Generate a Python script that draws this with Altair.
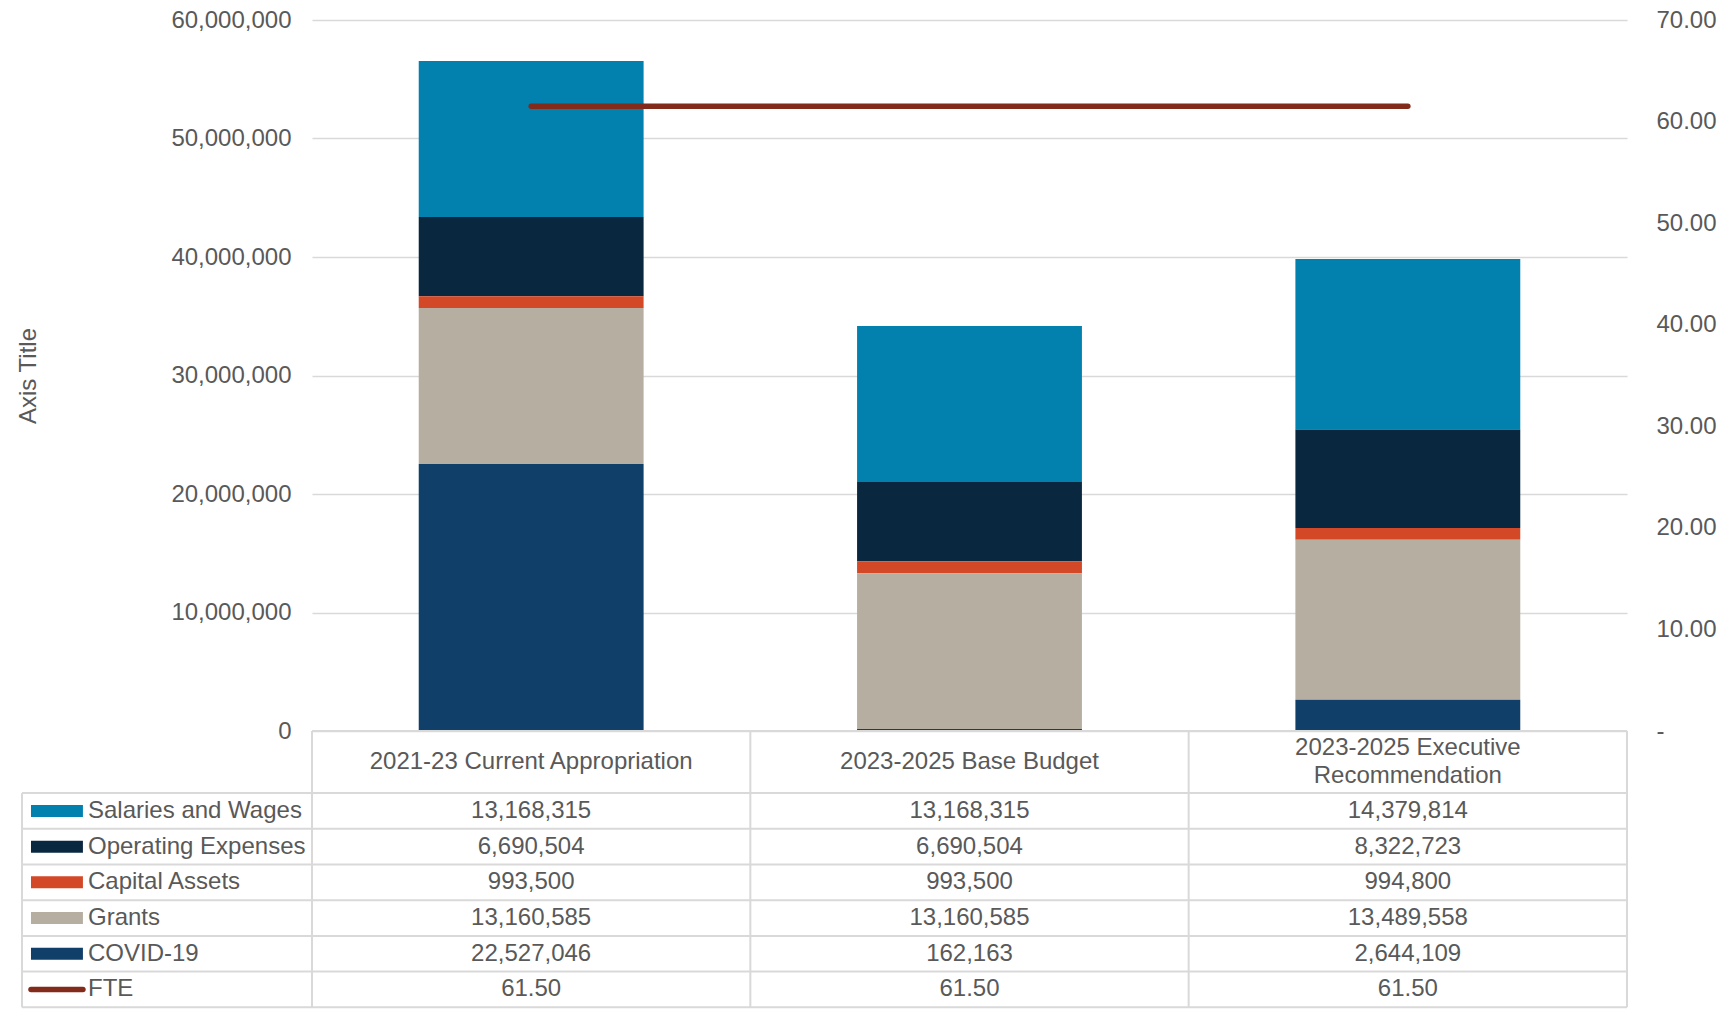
import altair as alt
import pandas as pd

# ---------------- data ----------------
categories = ["2021-23 Current Appropriation", "2023-2025 Base Budget",
              "2023-2025 Executive Recommendation"]
header_labels = ["2021-23 Current Appropriation", "2023-2025 Base Budget",
                 "2023-2025 Executive\nRecommendation"]
series_names = ["Salaries and Wages", "Operating Expenses", "Capital Assets",
                "Grants", "COVID-19"]
salaries = [13168315, 13168315, 14379814]
operating = [6690504, 6690504, 8322723]
capital = [993500, 993500, 994800]
grants = [13160585, 13160585, 13489558]
covid = [22527046, 162163, 2644109]
fte = [61.50, 61.50, 61.50]
series_colors = ["#0280AE", "#0A2740", "#D34827", "#B5AEA1", "#103F69"]
fte_name = "FTE"
fte_color = "#832B1A"
left_ticks = [0, 10000000, 20000000, 30000000, 40000000, 50000000, 60000000]
right_ticks = [0, 10, 20, 30, 40, 50, 60, 70]

# ---------------- layout constants ----------------
W, H = 1315, 711
TEXT = "#595959"
GRID = "#D9D9D9"
FONT = "Liberation Sans"
FS = 24
LEG = 0.6616        # legend column width in column units
HDR = 1.74          # header height in row units
ROW_PX = 35.7
NROWS = 6
LINE_H = 28

values_by_series = [salaries, operating, capital, grants, covid]
all_names = series_names + [fte_name]
all_colors = series_colors + [fte_color]

bar_rows = []
for r, (name, vals) in enumerate(zip(series_names, values_by_series)):
    for i, c in enumerate(categories):
        bar_rows.append({"category": c, "series": name, "value": vals[i],
                         "stack_order": len(series_names) - 1 - r})
bar_df = pd.DataFrame(bar_rows)
fte_df = pd.DataFrame({"category": categories, "fte": fte})

xband = alt.Scale(domain=categories, paddingInner=0.487, paddingOuter=0.2435)
color_scale = alt.Scale(domain=all_names, range=all_colors)

bars = alt.Chart(bar_df).mark_bar().encode(
    x=alt.X("category:N", sort=categories, scale=xband, axis=None),
    y=alt.Y("value:Q", stack="zero",
            scale=alt.Scale(domain=[0, 60000000], nice=False),
            axis=alt.Axis(values=left_ticks, format=",.0f", title="Axis Title",
                          grid=True, labelPadding=21, titlePadding=130)),
    color=alt.Color("series:N", scale=color_scale, legend=None),
    order=alt.Order("stack_order:Q", sort="ascending"),
)

line = alt.Chart(fte_df).mark_line(color=fte_color, strokeWidth=5.5,
                                   strokeCap="round").encode(
    x=alt.X("category:N", sort=categories, scale=xband, axis=None),
    y=alt.Y("fte:Q", scale=alt.Scale(domain=[0, 70], nice=False),
            axis=alt.Axis(orient="right", values=right_ticks, grid=False,
                          title=None, labelAlign="left", labelPadding=29,
                          labelExpr="datum.value == 0 ? '-' : format(datum.value, '.2f')")),
)

top = alt.layer(bars, line).resolve_scale(y="independent")

# ---------------- table ----------------
TXS = alt.Scale(domain=[0, 3], nice=False, zero=False)
TOTAL_U = HDR + NROWS
TYS = alt.Scale(domain=[0, TOTAL_U], range=[H, H + TOTAL_U * ROW_PX],
                nice=False, zero=False)

seg = [{"tx": 0, "tx2": 3, "ty": 0, "ty2": 0}]
for k in range(NROWS + 1):
    seg.append({"tx": -LEG, "tx2": 3, "ty": HDR + k, "ty2": HDR + k})
seg.append({"tx": -LEG, "tx2": -LEG, "ty": HDR, "ty2": HDR + NROWS})
for i in range(4):
    seg.append({"tx": i, "tx2": i, "ty": 0, "ty2": HDR + NROWS})
seg_df = pd.DataFrame(seg)

borders = alt.Chart(seg_df).mark_rule(color=GRID, strokeWidth=2).encode(
    x=alt.X("tx:Q", scale=TXS, axis=None), x2="tx2:Q",
    y=alt.Y("ty:Q", scale=TYS, axis=None), y2="ty2:Q")

hdr_df = pd.DataFrame({
    "tx": [i + 0.5 for i in range(3)],
    "ty": [HDR / 2 - (lbl.count("\n") * LINE_H / 2) / ROW_PX for lbl in header_labels],
    "label": header_labels})
header = alt.Chart(hdr_df).mark_text(
    font=FONT, fontSize=FS, color=TEXT, lineBreak="\n", lineHeight=LINE_H,
    baseline="middle", align="center").encode(
    x=alt.X("tx:Q", scale=TXS, axis=None),
    y=alt.Y("ty:Q", scale=TYS, axis=None), text="label:N")

cell_rows = []
for r, name in enumerate(all_names):
    vals = values_by_series[r] if r < len(series_names) else fte
    for i in range(3):
        cell_rows.append({"tx": i + 0.5, "ty": HDR + r + 0.5,
                          "series": name, "value": vals[i]})
cell_df = pd.DataFrame(cell_rows)
cells = alt.Chart(cell_df).transform_calculate(
    label="datum.series == 'FTE' ? format(datum.value, '.2f') : format(datum.value, ',.0f')"
).mark_text(font=FONT, fontSize=FS, color=TEXT, baseline="middle",
            align="center").encode(
    x=alt.X("tx:Q", scale=TXS, axis=None),
    y=alt.Y("ty:Q", scale=TYS, axis=None), text="label:N")

leg_df = pd.DataFrame({"series": all_names,
                       "ty": [HDR + r + 0.5 for r in range(len(all_names))],
                       "tx": [-LEG + 0.1506] * len(all_names),
                       "sx": [-LEG + 0.0205] * len(all_names),
                       "sx2": [-LEG + 0.139] * len(all_names)})
leg_text = alt.Chart(leg_df).mark_text(
    font=FONT, fontSize=FS, color=TEXT, baseline="middle", align="left").encode(
    x=alt.X("tx:Q", scale=TXS, axis=None),
    y=alt.Y("ty:Q", scale=TYS, axis=None), text="series:N")

swatch = alt.Chart(leg_df).transform_filter(
    alt.datum.series != fte_name).mark_rule(strokeWidth=12, strokeCap="butt").encode(
    x=alt.X("sx:Q", scale=TXS, axis=None), x2="sx2:Q",
    y=alt.Y("ty:Q", scale=TYS, axis=None),
    color=alt.Color("series:N", scale=color_scale, legend=None))

fte_sw = alt.Chart(leg_df).transform_filter(
    alt.datum.series == fte_name).mark_rule(strokeWidth=5.5, strokeCap="round",
                                            color=fte_color).encode(
    x=alt.X("sx:Q", scale=TXS, axis=None), x2="sx2:Q",
    y=alt.Y("ty:Q", scale=TYS, axis=None))

table = alt.layer(borders, header, cells, swatch, fte_sw, leg_text)

chart = alt.layer(top, table).resolve_scale(
    x="independent", y="independent"
).properties(
    width=W, height=H, padding={"left": 8, "top": 0, "right": 5, "bottom": 0}
).configure(font=FONT).configure_axis(
    labelFont=FONT, labelFontSize=FS, labelColor=TEXT,
    titleFont=FONT, titleFontSize=FS, titleColor=TEXT, titleFontWeight="normal",
    domain=False, ticks=False, gridColor=GRID, gridWidth=1.5,
).configure_view(stroke=None)

chart.save("out.html", embed_options={"renderer": "svg", "actions": False})
